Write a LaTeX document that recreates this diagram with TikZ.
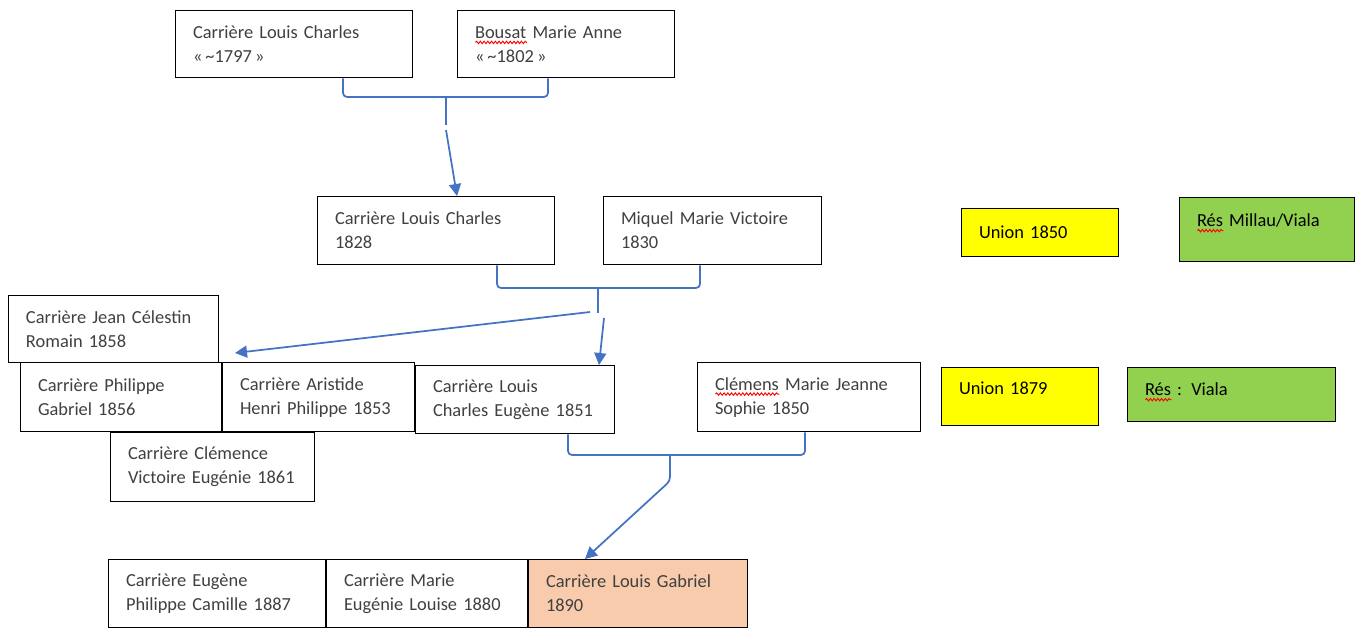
\documentclass[tikz,border=0pt]{standalone}
\usepackage{fontspec}
\setmainfont{Carlito}
\usepackage{xcolor}
\usepackage{tikz}
\usetikzlibrary{arrows.meta, positioning, calc, decorations.pathmorphing}
\definecolor{linkblue}{HTML}{4472C4}
\definecolor{namegray}{HTML}{404040}
\definecolor{unionyellow}{HTML}{FFFF00}
\definecolor{resgreen}{HTML}{92D050}
\definecolor{childpeach}{HTML}{F8CBAD}
\newcommand{\spell}[1]{\setbox0\hbox{#1}\rlap{\raisebox{-3pt}[0pt][0pt]{\tikz[baseline=0pt]
    \draw[red, line width=0.7pt, decorate, decoration={snake, amplitude=0.9pt, segment length=2.8pt}]
    (0pt,0pt) -- (\wd0,0pt);}}\box0\relax}
\tikzstyle{person} = [
    rectangle, draw=black, line width=1pt, fill=white, text=namegray,
    align=left, inner xsep=13pt, inner ysep=0pt, anchor=north west,
    font=\fontsize{13.8}{18}\selectfont
]
\tikzstyle{union} = [person, fill=unionyellow, text=black]
\tikzstyle{res} = [person, fill=resgreen, text=black]
\tikzstyle{link} = [draw=linkblue, line width=1.3pt, rounded corners=3pt]
\tikzstyle{arrow} = [link, -{Triangle[length=9pt, width=9pt]}]

\begin{document}
\begin{tikzpicture}[x=0.75pt, y=-0.75pt]
        \useasboundingbox[fill=white] (0,0) rectangle (1357,628);

        % First couple
        \node[person, text width=151.5pt, minimum height=50.25pt] (lc1797) at (175,10)
            {Carrière Louis Charles\\«\,\textasciitilde1797\,»};
        \node[person, text width=136.5pt, minimum height=50.25pt] (bma) at (457,10)
            {\spell{Bousat} Marie Anne\\«\,\textasciitilde1802\,»};

        % Second couple
        \node[person, text width=151.5pt, minimum height=51pt] (lc1828) at (317,196)
            {Carrière Louis Charles\\1828};
        \node[person, text width=137.25pt, minimum height=51pt] (mmv) at (603,196)
            {Miquel Marie Victoire\\1830};
        \node[union, text width=91.5pt, minimum height=36pt,
              text height=10pt, text depth=1pt] (u1850) at (961,208)
            {Union 1850};
        \node[res, text width=105pt, minimum height=48pt,
              text height=10pt, text depth=14.5pt] (rmv) at (1179,197)
            {\spell{Rés} Millau/Viala};

        % Children of 1828 / 1830
        \node[person, text width=131.25pt, minimum height=50.25pt] (jcr) at (8,295)
            {Carrière Jean Célestin\\Romain 1858};
        \node[person, text width=124.5pt, minimum height=51.75pt] (pg) at (20,362)
            {Carrière Philippe\\Gabriel 1856};
        \node[person, text width=117.75pt, minimum height=51.75pt] (ahp) at (pg.north east)
            {Carrière Aristide\\Henri Philippe 1853};
        \node[person, text width=123pt, minimum height=51pt] (lce) at (415,365)
            {Carrière Louis\\Charles Eugène 1851};
        \node[person, text width=126.75pt, minimum height=51.75pt] (cve) at (110,432)
            {Carrière Clémence\\Victoire Eugénie 1861};

        % Third couple
        \node[person, text width=141pt, minimum height=51.75pt] (cmj) at (697,362)
            {\spell{Clémens} Marie Jeanne\\Sophie 1850};
        \node[union, text width=91.5pt, minimum height=43.5pt,
              text height=10pt, text depth=13pt] (u1879) at (941,367)
            {Union 1879};
        \node[res, text width=129.75pt, minimum height=40.5pt,
              text height=10pt, text depth=8.5pt] (rv) at (1127,367)
            {\spell{Rés} : Viala};

        % Children of 1851 / 1850
        \node[person, text width=136.5pt, minimum height=51pt] (epc) at (108,559)
            {Carrière Eugène\\Philippe Camille 1887};
        \node[person, text width=124.5pt, minimum height=51pt] (mel) at (epc.north east)
            {Carrière Marie\\Eugénie Louise 1880};
        \node[person, fill=childpeach, text width=138pt, minimum height=51pt] (lgb) at (mel.north east)
            {Carrière Louis Gabriel\\1890};

        % Brackets and arrows
        \coordinate (b1l) at (343,97);
        \coordinate (b1r) at (548,97);
        \coordinate (j1) at (446,97);
        \coordinate (s1) at (446,125);
        \coordinate (a1) at (446,130);
        \draw[link] (b1l |- lc1797.south) -- (b1l) -- (b1r) -- (b1r |- bma.south);
        \draw[link] (j1) -- (s1);
        \draw[arrow] (a1) -- ($(lc1828.north west)+(140,0)$);

        \coordinate (b2l) at (497,288);
        \coordinate (b2r) at (700,288);
        \coordinate (j2) at (598,288);
        \coordinate (s2) at (598,313);
        \coordinate (a2) at (590,312);
        \coordinate (a3) at (604,318);
        \draw[link] (b2l |- lc1828.south) -- (b2l) -- (b2r) -- (b2r |- mmv.south);
        \draw[link] (j2) -- (s2);
        \draw[arrow] (a2) -- ($(ahp.north west)+(13,-9)$);
        \draw[arrow] (a3) -- ($(lce.north west)+(184,0)$);

        \coordinate (b3l) at (568,455);
        \coordinate (b3r) at (805,455);
        \coordinate (j3) at (670,455);
        \coordinate (s3) at (670,481);
        \draw[link] (b3l |- lce.south) -- (b3l) -- (b3r) -- (b3r |- cmj.south);
        \draw[arrow] (j3) -- (s3) -- ($(lgb.north west)+(57,0)$);
    \end{tikzpicture}
\end{document}
